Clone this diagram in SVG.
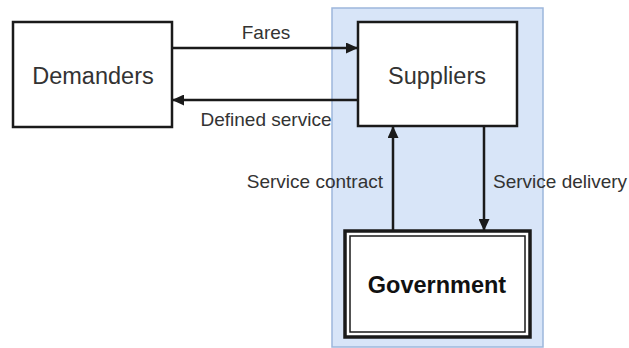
<svg xmlns="http://www.w3.org/2000/svg" width="629" height="348" viewBox="0 0 629 348">
<style>
.box{fill:#ffffff;stroke:#1a1a1a;stroke-width:2.5}
.big{font-family:"Liberation Sans",Arial,sans-serif;font-size:23.5px;fill:#333333;text-anchor:middle}
.bold{font-weight:bold;fill:#111111}
.lbl{font-family:"Liberation Sans",Arial,sans-serif;font-size:19px;fill:#333333}
.conn{stroke:#1a1a1a;stroke-width:2.5;fill:none;marker-end:url(#ah)}
</style>
<defs>
<marker id="ah" viewBox="0 0 12 11" refX="12" refY="5.5" markerWidth="12" markerHeight="11" markerUnits="userSpaceOnUse" orient="auto">
<path d="M0,0 L12,5.5 L0,11 Z" fill="#1a1a1a"/>
</marker>
</defs>
<rect id="region" x="332" y="8" width="211" height="339" fill="#d8e5f8" stroke="#9db7dc" stroke-width="1.5"/>
<g id="demanders">
<rect class="box" x="13" y="22" width="159" height="105"/>
<text class="big" x="93" y="84">Demanders</text>
</g>
<g id="suppliers">
<rect class="box" x="358" y="22" width="159" height="104"/>
<text class="big" x="437" y="84">Suppliers</text>
</g>
<g id="government">
<rect x="345" y="231" width="185" height="106" fill="#ffffff" stroke="#1a1a1a" stroke-width="3.5"/>
<rect x="350" y="236" width="175" height="96" fill="none" stroke="#1a1a1a" stroke-width="1.5"/>
<text class="big bold" x="437" y="293">Government</text>
</g>
<g id="connectors">
<line class="conn" x1="172" y1="48" x2="358" y2="48"/>
<line class="conn" x1="358" y1="100" x2="172" y2="100"/>
<line class="conn" x1="393" y1="231" x2="393" y2="126"/>
<line class="conn" x1="484" y1="126" x2="484" y2="231"/>
<text class="lbl" x="266" y="39" text-anchor="middle">Fares</text>
<text class="lbl" x="266" y="126" text-anchor="middle">Defined service</text>
<text class="lbl" x="383" y="188" text-anchor="end">Service contract</text>
<text class="lbl" x="493" y="188">Service delivery</text>
</g>
</svg>
